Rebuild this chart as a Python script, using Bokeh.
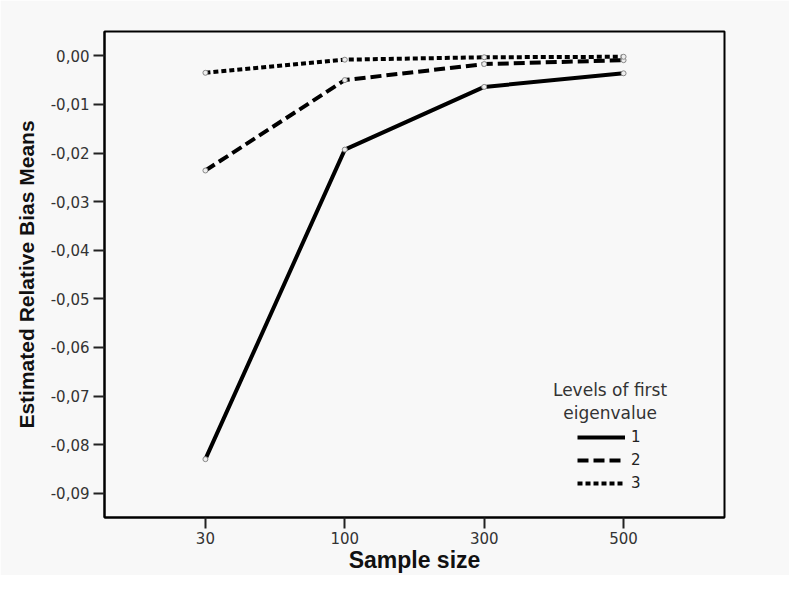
from bokeh.plotting import figure
from bokeh.models import FactorRange, Range1d, FixedTicker, Legend, LegendItem, Label
from bokeh.embed import file_html
from bokeh.resources import INLINE

sample_sizes = ["30", "100", "300", "500"]
level1 = [-0.0830, -0.0193, -0.0064, -0.0036]
level2 = [-0.0236, -0.0050, -0.0017, -0.0009]
level3 = [-0.0035, -0.0008, -0.0003, -0.0002]
y_ticks = [0.0, -0.01, -0.02, -0.03, -0.04, -0.05, -0.06, -0.07, -0.08, -0.09]
y_tick_labels = ["0,00", "-0,01", "-0,02", "-0,03", "-0,04", "-0,05", "-0,06", "-0,07", "-0,08", "-0,09"]
legend_title = ["Levels of first", "eigenvalue"]
legend_labels = ["1", "2", "3"]

FONT = "DejaVu Sans"
BOLD_FONT = "Liberation Sans"
BG = "#f8f8f8"

p = figure(width=789, height=575, output_backend="svg", toolbar_location=None,
           x_range=FactorRange(factors=sample_sizes, range_padding=0.112, range_padding_units="percent"),
           y_range=Range1d(-0.095, 0.005),
           min_border_left=104, min_border_right=65, min_border_top=31, min_border_bottom=58)
p.background_fill_color = BG
p.border_fill_color = BG
p.outline_line_color = "black"
p.outline_line_width = 2
p.xgrid.visible = False
p.ygrid.visible = False

for ax in (p.xaxis[0], p.yaxis[0]):
    ax.axis_line_width = 2
    ax.axis_line_color = "black"
    ax.major_tick_line_width = 2
    ax.major_tick_line_color = "#222222"
    ax.major_tick_out = 11
    ax.major_tick_in = 0
    ax.minor_tick_out = 0
    ax.minor_tick_in = 0
    ax.major_label_text_font = FONT
    ax.major_label_text_font_size = "15px"
    ax.major_label_text_color = "#333333"
    ax.axis_label_text_font = BOLD_FONT
    ax.axis_label_text_font_style = "bold"
    ax.axis_label_text_color = "#111111"

p.yaxis.ticker = FixedTicker(ticks=y_ticks)
p.yaxis.major_label_overrides = {t: l for t, l in zip(y_ticks, y_tick_labels)}
p.yaxis.major_label_standoff = 4
p.yaxis.axis_label = "Estimated Relative Bias Means"
p.yaxis.axis_label_text_font_size = "21px"
p.yaxis.axis_label_standoff = 10
p.xaxis.axis_label = "Sample size"
p.xaxis.axis_label_text_font_size = "23px"
p.xaxis.major_label_standoff = 3
p.xaxis.axis_label_standoff = 0

r1 = p.line(sample_sizes, level1, line_color="black", line_width=4)
r2 = p.line(sample_sizes, level2, line_color="black", line_width=4, line_dash="11 5")
r3 = p.line(sample_sizes, level3, line_color="black", line_width=4, line_dash="5 3")
for vals in (level1, level2, level3):
    p.scatter(sample_sizes, vals, size=5, fill_color="#eeeeee", line_color="#888888", line_width=1)

legend = Legend(items=[LegendItem(label=legend_labels[0], renderers=[r1]),
                       LegendItem(label=legend_labels[1], renderers=[r2]),
                       LegendItem(label=legend_labels[2], renderers=[r3])],
                location=(473, 24), border_line_color=None, background_fill_alpha=0,
                padding=0, margin=0, spacing=3, glyph_width=48, glyph_height=20,
                label_height=20, label_standoff=6, label_text_font=FONT,
                label_text_font_size="15px", label_text_color="#222222")
p.add_layout(legend, "center")

for i, t in enumerate(legend_title):
    p.add_layout(Label(x=3.403, y=[-0.0688, -0.0735][i], text=t, text_align="center",
                       text_baseline="middle", text_font=FONT, text_font_size="17px",
                       text_color="#333333"))

open("out.html", "w").write(file_html(p, INLINE))
